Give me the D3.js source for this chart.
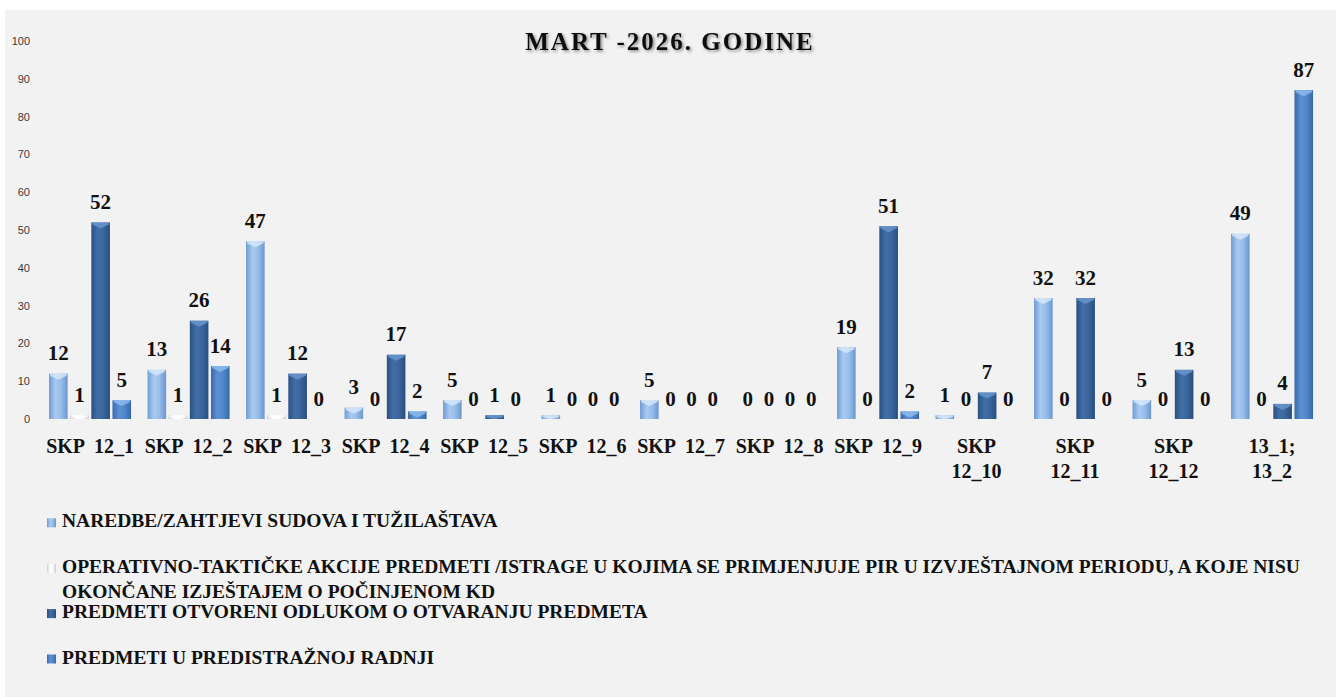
<!DOCTYPE html>
<html><head><meta charset="utf-8">
<script src="https://cdn.jsdelivr.net/npm/d3@7"></script>
<style>
html,body{margin:0;padding:0;background:#fff;}
svg{display:block;}
</style></head><body>
<svg id="chart" width="1336" height="697"></svg>
<script>
// ---- data ----
const title = "MART -2026. GODINE";
const categories = ["SKP 12_1","SKP 12_2","SKP 12_3","SKP 12_4","SKP 12_5","SKP 12_6","SKP 12_7","SKP 12_8","SKP 12_9","SKP 12_10","SKP 12_11","SKP 12_12","13_1; 13_2"];
const xLabelLines = [["SKP \u00A012_1"],["SKP \u00A012_2"],["SKP \u00A012_3"],["SKP \u00A012_4"],["SKP \u00A012_5"],["SKP \u00A012_6"],["SKP \u00A012_7"],["SKP \u00A012_8"],["SKP \u00A012_9"],["SKP","12_10"],["SKP","12_11"],["SKP","12_12"],["13_1;","13_2"]];
const seriesNames = [
  "NAREDBE/ZAHTJEVI SUDOVA I TUŽILAŠTAVA",
  "OPERATIVNO-TAKTIČKE AKCIJE PREDMETI /ISTRAGE U KOJIMA SE PRIMJENJUJE PIR U IZVJEŠTAJNOM PERIODU, A KOJE NISU OKONČANE IZJEŠTAJEM O POČINJENOM KD",
  "PREDMETI OTVORENI ODLUKOM O OTVARANJU PREDMETA",
  "PREDMETI U PREDISTRAŽNOJ RADNJI"
];
const legendLines = [
  ["NAREDBE/ZAHTJEVI SUDOVA I TUŽILAŠTAVA"],
  ["OPERATIVNO-TAKTIČKE AKCIJE PREDMETI /ISTRAGE U KOJIMA SE PRIMJENJUJE PIR U IZVJEŠTAJNOM PERIODU, A KOJE NISU","OKONČANE IZJEŠTAJEM O POČINJENOM KD"],
  ["PREDMETI OTVORENI ODLUKOM O OTVARANJU PREDMETA"],
  ["PREDMETI U PREDISTRAŽNOJ RADNJI"]
];
const naredbe      = [12,13,47,3,5,1,5,0,19,1,32,5,49];
const operativno   = [1,1,1,0,0,0,0,0,0,0,0,0,0];
const otvoreni     = [52,26,12,17,1,0,0,0,51,7,32,13,4];
const predistrazna = [5,14,0,2,0,0,0,0,2,0,0,0,87];
const series = [naredbe, operativno, otvoreni, predistrazna];
const yTicks = [0,10,20,30,40,50,60,70,80,90,100];

// ---- drawing ----
const W = 1336, H = 697;
const SERIF = "'Liberation Serif', serif";
const svg = d3.select("#chart");
svg.append("rect").attr("x",5).attr("y",10).attr("width",W-5).attr("height",H-10).attr("fill","#f2f2f2");

const defs = svg.append("defs");
const palettes = [
  {stops:["#6f9cd4","#a8caf0","#98bdea","#6b96cc"], hi:"#dcecfc"},
  {stops:["#cfcfcf","#ffffff","#f9f9f9","#cdcdcd"], hi:"#ffffff"},
  {stops:["#2b5183","#416ea7","#3a669d","#294e7f"], hi:"#6f9bd4"},
  {stops:["#3a69aa","#5d91d4","#5287cc","#3768a7"], hi:"#93c0f2"}
];
const offs = [0,0.35,0.65,1];
palettes.forEach((p,i)=>{
  const g = defs.append("linearGradient").attr("id","g"+i).attr("x1","0").attr("x2","1").attr("y1","0").attr("y2","0");
  p.stops.forEach((c,j)=>g.append("stop").attr("offset",offs[j]).attr("stop-color",c));
});
const f = defs.append("filter").attr("id","shadow").attr("x","-10%").attr("y","-40%").attr("width","120%").attr("height","180%");
f.append("feDropShadow").attr("dx",1.5).attr("dy",1.5).attr("stdDeviation",1.5).attr("flood-color","#000").attr("flood-opacity",0.45);

const x = d3.scaleBand().domain(categories).range([40.8,1321.3]).paddingInner(0.167).paddingOuter(0.0835);
const xi = d3.scaleBand().domain(d3.range(series.length)).range([0,x.bandwidth()]).paddingInner(0.12);
const y = d3.scaleLinear().domain([0,100]).range([419,41]);

// title
svg.append("text").attr("x",670).attr("y",50).attr("text-anchor","middle")
  .attr("font-family",SERIF).attr("font-weight","bold").attr("font-size",25)
  .attr("letter-spacing",2).attr("fill","#111").attr("filter","url(#shadow)").text(title);

// y axis
const yAxis = svg.append("g").attr("transform","translate(33,0)")
  .call(d3.axisLeft(y).tickValues(yTicks).tickSize(0).tickPadding(3));
yAxis.select(".domain").remove();
yAxis.selectAll("text").attr("font-family","'Liberation Sans', Arial, sans-serif").attr("font-size",11).attr("fill","#3a3a3a");

// x axis
const xAxis = svg.append("g").attr("transform","translate(0,419)")
  .call(d3.axisBottom(x).tickSize(0));
xAxis.select(".domain").remove();
xAxis.selectAll(".tick text").each(function(d){
  const t = d3.select(this);
  const lines = xLabelLines[categories.indexOf(d)];
  t.text(null).attr("y",34).attr("dy",null)
   .attr("font-family",SERIF).attr("font-weight","bold").attr("font-size",20).attr("fill","#111");
  lines.forEach((l,k)=>t.append("tspan").attr("x",0).attr("y",34+k*25).text(l));
});

// bars
const groups = svg.append("g").selectAll("g").data(categories).join("g")
  .attr("transform",d=>`translate(${x(d)},0)`);
series.forEach((vals,si)=>{
  const pal = palettes[si];
  groups.each(function(d,ci){
    const g = d3.select(this);
    const v = vals[ci];
    const bx = xi(si), bw = xi.bandwidth();
    const top = y(v), h = y(0)-y(v);
    if (h > 0) {
      g.append("rect").attr("x",bx).attr("y",top).attr("width",bw).attr("height",h).attr("fill",`url(#g${si})`);
      const hh = Math.min(6,h);
      g.append("path")
        .attr("d",`M${bx+1},${top} L${bx+bw-1},${top} L${bx+bw-1},${top+Math.min(2,hh)} L${bx+bw/2},${top+hh} L${bx+1},${top+Math.min(2,hh)} Z`)
        .attr("fill",pal.hi).attr("opacity",0.75);
    }
    g.append("text").attr("x",bx+bw/2).attr("y",top-13.5).attr("text-anchor","middle")
      .attr("font-family",SERIF).attr("font-weight","bold").attr("font-size",21).attr("fill","#111")
      .text(v);
  });
});

// legend
const lg = svg.append("g");
legendLines.forEach((lines,i)=>{
  const base = 527.3 + i*45.4;
  lg.append("rect").attr("x",47).attr("y",base-9).attr("width",9).attr("height",9).attr("fill",`url(#g${i})`);
  const t = lg.append("text").attr("font-family",SERIF).attr("font-weight","bold").attr("font-size",19.5).attr("fill","#111");
  lines.forEach((l,k)=>t.append("tspan").attr("x",62).attr("y",base+k*25.6).text(l));
});
</script>
</body></html>
